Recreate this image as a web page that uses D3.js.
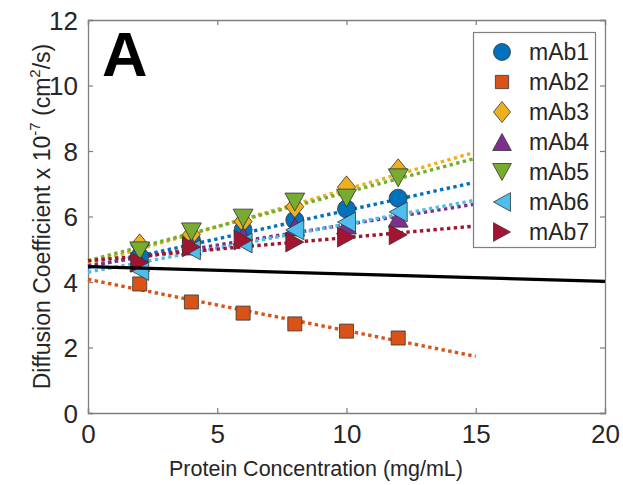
<!DOCTYPE html>
<html><head><meta charset="utf-8">
<script src="https://cdn.jsdelivr.net/npm/d3@7"></script>
<style>body{margin:0;background:#fff;} svg{display:block;font-family:"Liberation Sans",Arial,sans-serif;}</style>
</head><body>
<script>
const conc = [2, 4, 6, 8, 10, 12];
const seriesNames = ["mAb1","mAb2","mAb3","mAb4","mAb5","mAb6","mAb7"];
const mAb1 = [4.78, 5.28, 5.59, 5.89, 6.23, 6.56];
const mAb2 = [3.94, 3.39, 3.05, 2.72, 2.50, 2.29];
const mAb3 = [5.13, 5.45, 5.85, 6.30, 6.90, 7.42];
const mAb4 = [4.60, 5.10, 5.40, 5.68, 5.74, 5.95];
const mAb5 = [4.95, 5.53, 5.95, 6.44, 6.56, 7.18];
const mAb6 = [4.35, 4.98, 5.19, 5.59, 5.83, 6.14];
const mAb7 = [4.60, 5.07, 5.28, 5.22, 5.37, 5.44];
const fitX = [0, 15];
const fitStart = [4.45, 4.08, 4.55, 4.50, 4.65, 4.30, 4.65];
const fitEnd   = [7.05, 1.73, 7.97, 6.38, 7.78, 6.50, 5.71];
const refX = [0, 20];
const refY = [4.47, 4.02];
const xTicks = [0, 5, 10, 15, 20];
const yTicks = [0, 2, 4, 6, 8, 10, 12];
const colors = ["#0072BD","#D95319","#EDB120","#7E2F8E","#77AC30","#4DBEEE","#A2142F"];
const shapes = ["circle","square","diamond","up","down","left","right"];
const allY = [mAb1, mAb2, mAb3, mAb4, mAb5, mAb6, mAb7];

const W = 623, H = 485;
const L = 88, R = 605, T = 20, B = 413;
const svg = d3.select("body").append("svg").attr("width", W).attr("height", H);
const x = d3.scaleLinear().domain([0, 20]).range([L, R]);
const y = d3.scaleLinear().domain([0, 12]).range([B, T]);
const axisCol = "#7f7f7f";

function markerPath(shape, s) {
  switch (shape) {
    case "circle": return d3.symbol(d3.symbolCircle, Math.PI * s * s / 4)();
    case "square": { const h = s * 0.39; return `M${-h},${-h}H${h}V${h}H${-h}Z`; }
    case "diamond": { const w = s * 0.5, h = s * 0.62; return `M0,${-h}L${w},0L0,${h}L${-w},0Z`; }
    case "up": { const w = s * 0.55, h = s * 0.5; return `M0,${-h}L${w},${h}L${-w},${h}Z`; }
    case "down": { const w = s * 0.55, h = s * 0.5; return `M0,${h}L${w},${-h}L${-w},${-h}Z`; }
    case "left": { const w = s * 0.5, h = s * 0.55; return `M${-w},0L${w},${-h}L${w},${h}Z`; }
    case "right": { const w = s * 0.5, h = s * 0.55; return `M${w},0L${-w},${-h}L${-w},${h}Z`; }
  }
}

// axes box
const gx = svg.append("g").attr("transform", `translate(0,${B})`)
  .call(d3.axisBottom(x).tickValues(xTicks).tickSize(-5).tickPadding(12).tickFormat(d3.format("d")));
const gxt = svg.append("g").attr("transform", `translate(0,${T})`)
  .call(d3.axisTop(x).tickValues(xTicks).tickSize(-5).tickFormat(""));
const gy = svg.append("g").attr("transform", `translate(${L},0)`)
  .call(d3.axisLeft(y).tickValues(yTicks).tickSize(-5).tickPadding(10).tickFormat(d3.format("d")));
const gyr = svg.append("g").attr("transform", `translate(${R},0)`)
  .call(d3.axisRight(y).tickValues(yTicks).tickSize(-5).tickFormat(""));
[gx, gxt, gy, gyr].forEach(g => {
  g.select(".domain").attr("stroke", axisCol).attr("stroke-width", 1.3);
  g.selectAll(".tick line").attr("stroke", axisCol).attr("stroke-width", 1.2);
  g.selectAll(".tick text").attr("fill", "#262626").attr("font-size", 26)
   .attr("font-family", "'Liberation Sans', Arial, sans-serif");
});
gx.selectAll(".tick text").attr("dy", "0.71em");
gy.selectAll(".tick text").attr("dy", "0.36em");

// fit lines
const line = d3.line().x(d => x(d[0])).y(d => y(d[1]));
seriesNames.forEach((n, i) => {
  svg.append("path").datum([[fitX[0], fitStart[i]], [fitX[1], fitEnd[i]]])
    .attr("d", line).attr("fill", "none").attr("stroke", colors[i])
    .attr("stroke-width", 3.4).attr("stroke-dasharray", "3.4,3.4");
});

// markers
seriesNames.forEach((n, i) => {
  svg.append("g").selectAll("path").data(conc.map((c, j) => [c, allY[i][j]])).join("path")
    .attr("transform", d => `translate(${x(d[0])},${y(d[1])})`)
    .attr("d", markerPath(shapes[i], 18))
    .attr("fill", colors[i]).attr("stroke", "#333").attr("stroke-width", 0.8);
});

// reference line
svg.append("path").datum([[refX[0], refY[0]], [refX[1], refY[1]]])
  .attr("d", line).attr("fill", "none").attr("stroke", "#000").attr("stroke-width", 3.2);

// panel label
svg.append("text").attr("x", 102).attr("y", 76).attr("font-size", 63).attr("font-weight", "bold")
  .attr("fill", "#000").text("A");

// legend
const lg = svg.append("g");
lg.append("rect").attr("x", 473.5).attr("y", 32.5).attr("width", 122).attr("height", 215)
  .attr("fill", "#fff").attr("stroke", axisCol).attr("stroke-width", 1.2);
seriesNames.forEach((n, i) => {
  const cy = 52 + i * 30;
  lg.append("path").attr("transform", `translate(502,${cy})`).attr("d", markerPath(shapes[i], 17))
    .attr("fill", colors[i]).attr("stroke", "#333").attr("stroke-width", 0.8);
  lg.append("text").attr("x", 529).attr("y", cy).attr("dy", "0.36em").attr("font-size", 23)
    .attr("fill", "#262626").text(n);
});

// axis titles
svg.append("text").attr("x", 316).attr("y", 476).attr("text-anchor", "middle")
  .attr("font-size", 21.5).attr("fill", "#262626").text("Protein Concentration (mg/mL)");
const yt = svg.append("text").attr("transform", `translate(50,${(T + B) / 2}) rotate(-90)`)
  .attr("text-anchor", "middle").attr("font-size", 23).attr("fill", "#262626");
yt.append("tspan").text("Diffusion Coefficient x 10");
yt.append("tspan").attr("font-size", 15).attr("dy", -10).text("-7");
yt.append("tspan").attr("dy", 10).text(" (cm");
yt.append("tspan").attr("font-size", 15).attr("dy", -10).text("2");
yt.append("tspan").attr("dy", 10).text("/s)");
</script>
</body></html>
